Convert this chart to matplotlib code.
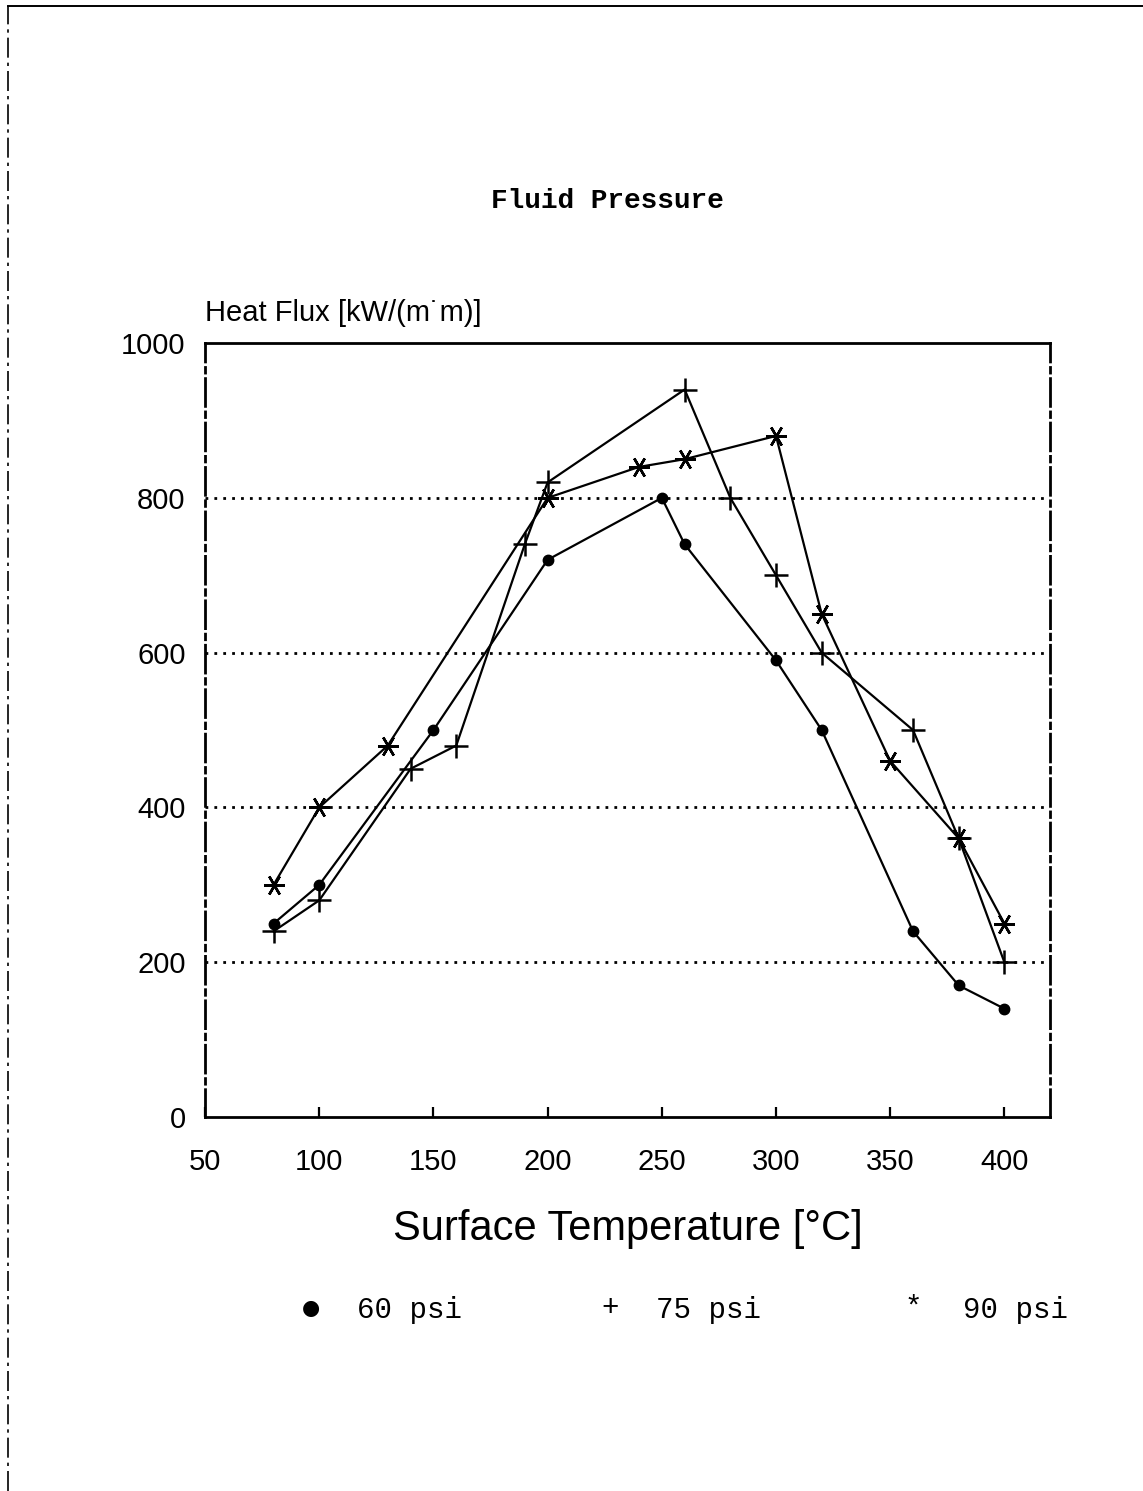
import matplotlib
matplotlib.use("Agg")
import matplotlib.pyplot as plt
from matplotlib.lines import Line2D

# ---- data ----
t60 = [80, 100, 150, 200, 250, 260, 300, 320, 360, 380, 400]
q60 = [250, 300, 500, 720, 800, 740, 590, 500, 240, 170, 140]

t75 = [80, 100, 140, 160, 190, 200, 260, 280, 300, 320, 360, 380, 400]
q75 = [240, 280, 450, 480, 740, 820, 940, 800, 700, 600, 500, 360, 200]

t90 = [80, 100, 130, 200, 240, 260, 300, 320, 350, 380, 400]
q90 = [300, 400, 480, 800, 840, 850, 880, 650, 460, 360, 250]

xticks = [50, 100, 150, 200, 250, 300, 350, 400]
yticks = [0, 200, 400, 600, 800, 1000]
legend_labels = ["60 psi", "75 psi", "90 psi"]

SANS = ["Liberation Sans Narrow", "Liberation Sans", "DejaVu Sans"]
MONO = ["Liberation Mono", "DejaVu Sans Mono"]

fig = plt.figure(figsize=(11.43, 14.91), dpi=100)
ax = fig.add_axes([0.1794, 0.2508, 0.7393, 0.5191])

lw = 1.6
ax.plot(t60, q60, color="black", lw=lw, marker="o", ms=7.5, zorder=3)
ax.plot(t75, q75, color="black", lw=lw, marker="+", ms=17, mew=1.8, zorder=3)
ax.plot(t90, q90, color="black", lw=lw, marker=(6, 2, 90), ms=15, mew=1.8, zorder=3)

ax.set_xlim(50, 420)
ax.set_ylim(0, 1000)
ax.set_xticks(xticks)
ax.set_yticks(yticks)
ax.set_xticklabels([str(v) for v in xticks], fontfamily=SANS, fontsize=21)
ax.set_yticklabels([str(v) for v in yticks], fontfamily=SANS, fontsize=21)
ax.tick_params(axis="x", direction="in", length=7, width=1.6, pad=22)
ax.tick_params(axis="y", length=0, pad=14)

for y in [200, 400, 600, 800]:
    ax.axhline(y, color="black", lw=2.0, linestyle=(0, (1, 2.2)), zorder=1)

for s in ["top", "bottom"]:
    ax.spines[s].set_linewidth(2.0)
for s in ["left", "right"]:
    ax.spines[s].set_linewidth(2.0)
    ax.spines[s].set_linestyle((0, (10, 2, 2, 2)))

# labels
fig.text(205 / 1143, 1 - 313 / 1491, "Heat Flux [kW/(m˙m)]", fontfamily=SANS,
         fontsize=21, ha="left", va="center")
fig.text(607 / 1143, 1 - 201 / 1491, "Fluid Pressure", fontfamily=MONO,
         fontsize=20, fontweight="bold", ha="center", va="center")
fig.text(628 / 1143, 1 - 1229 / 1491, "Surface Temperature [°C]", fontfamily=SANS,
         fontsize=30, ha="center", va="center")

# legend row
leg_sym_x = [311, 610, 913]
leg_txt_x = [357, 656, 963]
syms = ["●", "+", "*"]
for sx, tx, sym, lab in zip(leg_sym_x, leg_txt_x, syms, legend_labels):
    fig.text(sx / 1143, 1 - 1308 / 1491, sym, fontfamily=["DejaVu Sans"] if sym == "●" else MONO,
             fontsize=15 if sym == "●" else 21, ha="center", va="center")
    fig.text(tx / 1143, 1 - 1310 / 1491, lab, fontfamily=MONO, fontsize=21,
             ha="left", va="center")

# scanned page edges
fig.add_artist(Line2D([8 / 1143, 8 / 1143], [0, 1 - 6 / 1491], transform=fig.transFigure,
                      color="black", lw=1.2, linestyle=(0, (12, 3, 2, 3))))
fig.add_artist(Line2D([8 / 1143, 1], [1 - 6 / 1491, 1 - 6 / 1491], transform=fig.transFigure,
                      color="black", lw=1.4))

fig.savefig("out.png", dpi=100)
